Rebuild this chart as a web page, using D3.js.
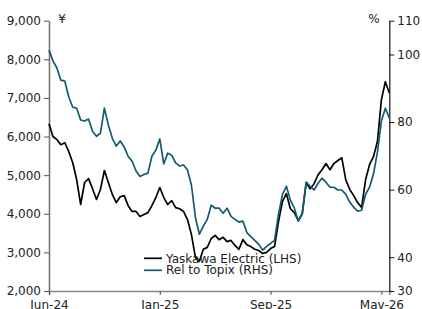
<!DOCTYPE html>
<html>
<head>
<meta charset="utf-8">
<script src="https://d3js.org/d3.v7.min.js"></script>
<style>
  body { margin: 0; background: #fff; }
  text { font-family: "DejaVu Sans", Verdana, sans-serif; }
</style>
</head>
<body>
<div id="chart"></div>
<script>
// tick labels along the bottom (every 28 points)
var xTickIdx = [0, 28, 56, 84];
var xTickLabels = ["Jun-24", "Jan-25", "Sep-25", "May-26"];
var leftTicks = [2000, 3000, 4000, 5000, 6000, 7000, 8000, 9000];
var rightTicks = [30, 40, 60, 80, 100, 110];

// Yaskawa Electric share price, yen (LHS)
var yaskawa = [6330, 6000, 5920, 5790, 5840, 5610, 5320, 4880, 4240, 4810,
  4910, 4650, 4370, 4630, 5120, 4810, 4500, 4290, 4440, 4470,
  4210, 4060, 4060, 3930, 3980, 4030, 4210, 4420, 4680, 4420,
  4240, 4340, 4160, 4130, 4060, 3850, 3460, 2870, 2770, 3080,
  3130, 3360, 3440, 3330, 3390, 3280, 3310, 3180, 3080, 3330,
  3200, 3150, 3080, 3050, 2970, 3000, 3100, 3150, 3800, 4320,
  4520, 4130, 4030, 3820, 4000, 4810, 4650, 4780, 5010, 5140,
  5300, 5140, 5300, 5380, 5450, 4880, 4630, 4470, 4290, 4160,
  4880, 5270, 5480, 5870, 6950, 7420, 7130];

// Relative to Topix, % (RHS)
var relTopix = [101.3, 98.1, 96.0, 92.4, 92.1, 87.4, 84.4, 84.1, 80.6, 80.3,
  80.9, 77.3, 75.8, 76.7, 84.1, 79.1, 75.2, 72.9, 74.4, 72.6,
  69.9, 68.4, 65.5, 63.9, 64.5, 64.9, 69.9, 71.7, 75.0, 67.6,
  70.8, 70.2, 67.9, 67.0, 67.3, 65.8, 61.3, 51.8, 46.8, 49.2,
  51.2, 55.4, 54.5, 54.5, 53.0, 54.5, 52.1, 51.2, 50.4, 50.7,
  47.3, 46.1, 45.0, 43.8, 42.1, 43.2, 44.1, 45.0, 52.7, 58.6,
  61.0, 56.9, 54.5, 50.7, 53.0, 62.2, 61.0, 59.9, 61.9, 63.4,
  62.2, 60.7, 60.7, 59.9, 59.9, 58.6, 56.3, 54.8, 53.6, 53.9,
  58.6, 60.7, 64.6, 71.1, 80.3, 84.1, 81.2];

var width = 422, height = 309;
var mLeft = 49, mRight = 389.3, mTop = 20.7, mBottom = 291;

var svg = d3.select("#chart").append("svg")
  .attr("width", width)
  .attr("height", height);

var x = d3.scaleLinear().domain([0, 86]).range([mLeft, mRight]);
var yL = d3.scaleLinear().domain([2000, 9000]).range([mBottom, mTop]);
var yR = d3.scaleLinear().domain([30, 110]).range([mBottom, mTop]);

// axes
var gx = svg.append("g")
  .attr("transform", "translate(0," + mBottom + ")")
  .call(d3.axisBottom(x).tickValues(xTickIdx)
    .tickFormat(function(d, i) { return xTickLabels[i]; })
    .tickSize(4).tickSizeOuter(4).tickPadding(5));

var gl = svg.append("g")
  .attr("transform", "translate(" + mLeft + ",0)")
  .call(d3.axisLeft(yL).tickValues(leftTicks).tickFormat(d3.format(","))
    .tickSize(5).tickSizeOuter(0).tickPadding(3));

var gr = svg.append("g")
  .attr("transform", "translate(" + mRight + ",0)")
  .call(d3.axisRight(yR).tickValues(rightTicks)
    .tickSize(5).tickSizeOuter(0).tickPadding(3));

[gx, gl, gr].forEach(function(g) {
  g.selectAll("text").style("font-size", "12px").style("fill", "#222")
    .style("font-family", "DejaVu Sans, Verdana, sans-serif");
});
gl.select(".domain").attr("stroke", "#777").attr("stroke-width", 1.6);
gl.selectAll(".tick line").attr("stroke", "#555");
gx.select(".domain").attr("stroke", "#888").attr("stroke-width", 1.6);
gx.selectAll(".tick line").attr("stroke", "#555");
gr.select(".domain").attr("stroke", "#111").attr("stroke-width", 1.2);
gr.selectAll(".tick line").attr("stroke", "#111");

// unit labels
svg.append("text").attr("x", 62).attr("y", 23)
  .attr("text-anchor", "middle").style("font-size", "12px").style("fill", "#222")
  .text("¥");
svg.append("text").attr("x", 374).attr("y", 23)
  .attr("text-anchor", "middle").style("font-size", "12px").style("fill", "#222")
  .text("%");

// lines
var lineL = d3.line().x(function(d, i) { return x(i); }).y(function(d) { return yL(d); });
var lineR = d3.line().x(function(d, i) { return x(i); }).y(function(d) { return yR(d); });

svg.append("path").datum(yaskawa)
  .attr("fill", "none").attr("stroke", "#000").attr("stroke-width", 1.7)
  .attr("stroke-linejoin", "round")
  .attr("d", lineL);

svg.append("path").datum(relTopix)
  .attr("fill", "none").attr("stroke", "#125b72").attr("stroke-width", 1.7)
  .attr("stroke-linejoin", "round")
  .attr("d", lineR);

// legend
var legend = [
  {name: "Yaskawa Electric (LHS)", color: "#000"},
  {name: "Rel to Topix (RHS)", color: "#125b72"}
];
var lg = svg.append("g").attr("transform", "translate(144,258.3)");
legend.forEach(function(d, i) {
  lg.append("line").attr("x1", 0).attr("x2", 18)
    .attr("y1", i * 12).attr("y2", i * 12)
    .attr("stroke", d.color).attr("stroke-width", 1.7);
  lg.append("text").attr("x", 22).attr("y", i * 12 + 4.2)
    .style("font-size", "12px").style("fill", "#222")
    .text(d.name);
});
</script>
</body>
</html>
